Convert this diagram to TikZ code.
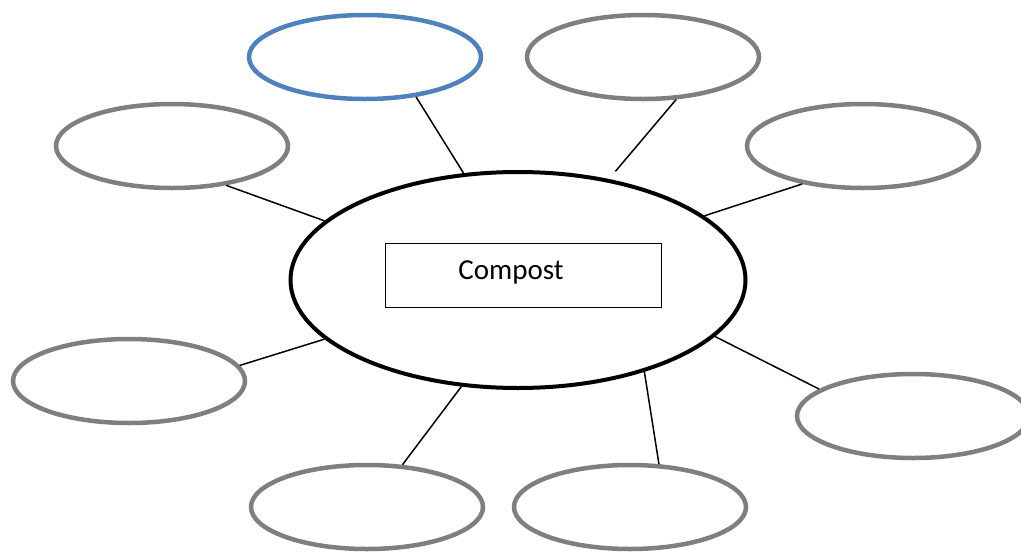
\documentclass[tikz,border=0pt]{standalone}
\usepackage{fontspec}
\setmainfont{Carlito}
\usetikzlibrary{shapes.geometric}
\definecolor{ovalgray}{HTML}{7F7F83}
\definecolor{ovalblue}{HTML}{4F81BD}
\begin{document}
\begin{tikzpicture}[x=1pt,y=-1pt,
  oval/.style={ellipse,draw=ovalgray,line width=4.5pt,minimum width=232pt,minimum height=84pt,inner sep=0pt},
  hub/.style={ellipse,draw=black,line width=4pt,minimum width=455pt,minimum height=216pt,inner sep=0pt},
  label/.style={draw=black,line width=1pt,minimum width=276pt,minimum height=64pt,inner sep=0pt},
  link/.style={draw=black,line width=1.5pt}]
\useasboundingbox (0,0) rectangle (1021,552);
\clip (0,0) rectangle (1021,552);
\node[hub] (c) at (518,280) {};
\node[label] (box) at (523,275) {};
\node[font=\fontsize{29}{34}\selectfont] (t) at (511,272) {Compost};
\node[oval,draw=ovalblue] (o1) at (365,57) {};
\node[oval] (o2) at (643,57) {};
\node[oval] (o3) at (172,146) {};
\node[oval] (o4) at (863,146) {};
\node[oval] (o5) at (129,381) {};
\node[oval] (o6) at (913,416) {};
\node[oval] (o7) at (367,507) {};
\node[oval] (o8) at (630,507) {};
\draw[link] (o1.-38) -- (c.117);
\draw[link,shorten >=10pt] (o2.-52) -- (c.48.5);
\draw[link] (o3.-36) -- (c.163);
\draw[link] (o4.-148) -- (c.19.6);
\draw[link] (o5.8) -- (c.-163);
\draw[link] (o6.164) -- (c.-16.3);
\draw[link] (o7.50) -- (c.-118.6);
\draw[link] (o8.56) -- (c.-36.6);
\end{tikzpicture}
\end{document}
